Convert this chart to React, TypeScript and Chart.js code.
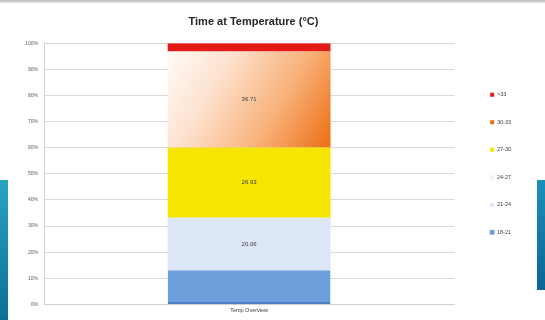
import React, { useEffect, useRef } from "react";
import { Chart, registerables } from "chart.js";

Chart.register(...registerables);

// Category and temperature bins (share of time, %)
const categories = ["Temp Overview"];
const binLabels = ["18-21", "21-24", "24-27", "27-30", "30-33", ">33"];
const bin18to21 = [13.08];
const bin21to24 = [20.06];
const bin24to27 = [0];
const bin27to30 = [26.93];
const bin30to33 = [36.71];
const binOver33 = [3.22];
const yTickValues = [0, 10, 20, 30, 40, 50, 60, 70, 80, 90, 100];

const FONT = "'Liberation Sans', Arial, sans-serif";

// Diagonal peach-to-orange fill for the 30-33 band
function orangeFill(ctx: any) {
  const chart = ctx.chart;
  const area = chart.chartArea;
  if (!area) return "#f5a565";
  const ys = chart.scales.y;
  const xs = chart.scales.x;
  const start = bin18to21[0] + bin21to24[0] + bin24to27[0] + bin27to30[0];
  const top = ys.getPixelForValue(start + bin30to33[0]);
  const bottom = ys.getPixelForValue(start);
  const cx = xs.getPixelForValue(0);
  const half = ((area.right - area.left) * 0.4) / 2;
  const g = chart.ctx.createLinearGradient(cx - half, top, cx + half, bottom);
  g.addColorStop(0, "#fffbf8");
  g.addColorStop(0.3, "#fde2cf");
  g.addColorStop(0.65, "#f8b27a");
  g.addColorStop(1, "#ec6d12");
  return g;
}

// Value labels centred inside the labelled segments
const segmentLabels = {
  id: "segmentLabels",
  afterDatasetsDraw(chart: any) {
    const { ctx } = chart;
    ctx.save();
    ctx.font = `6px ${FONT}`;
    ctx.fillStyle = "#404040";
    ctx.textAlign = "center";
    ctx.textBaseline = "middle";
    chart.data.datasets.forEach((ds: any, i: number) => {
      if (!ds.showValue) return;
      const meta = chart.getDatasetMeta(i);
      meta.data.forEach((el: any, j: number) => {
        const p = el.getCenterPoint();
        ctx.fillText(ds.data[j].toFixed(2), p.x, p.y);
      });
    });
    ctx.restore();
  },
};

// Nudges the legend block right and down
const legendOffset = {
  id: "legendOffset",
  afterLayout(chart: any) {
    const lg = chart.legend;
    if (!lg) return;
    lg.left += 14;
    lg.right += 14;
    lg.top += 5;
    lg.bottom += 5;
  },
};

export default function App() {
  const ref = useRef<HTMLCanvasElement>(null);

  useEffect(() => {
    if (!ref.current) return;
    const chart = new Chart(ref.current, {
      type: "bar",
      data: {
        labels: categories,
        datasets: [
          { label: binLabels[0], data: bin18to21, backgroundColor: "#6c9fdc", borderColor: "#4f7fc6", borderWidth: { top: 0, left: 0, right: 0, bottom: 2 }, borderSkipped: false, showValue: false },
          { label: binLabels[1], data: bin21to24, backgroundColor: "#dce6f6", showValue: true },
          { label: binLabels[2], data: bin24to27, backgroundColor: "#eef2f8", showValue: false },
          { label: binLabels[3], data: bin27to30, backgroundColor: "#f6e500", showValue: true },
          { label: binLabels[4], data: bin30to33, backgroundColor: orangeFill, showValue: true },
          { label: binLabels[5], data: binOver33, backgroundColor: "#e41a17", showValue: false },
        ] as any,
      },
      options: {
        responsive: false,
        animation: false,
        layout: { padding: { top: 0, right: 38, bottom: 3, left: 0 } },
        datasets: { bar: { barPercentage: 0.397, categoryPercentage: 1 } },
        scales: {
          x: {
            stacked: true,
            grid: { display: false, drawTicks: false },
            border: { color: "#d0d0d0" },
            ticks: { font: { size: 5.5, family: FONT }, color: "#404040", padding: 3 },
          },
          y: {
            stacked: true,
            min: 0,
            max: 100,
            afterFit(scale: any) {
              scale.width = 44;
            },
            afterBuildTicks(scale: any) {
              scale.ticks = yTickValues.map((v) => ({ value: v }));
            },
            grid: { color: "#d9d9d9", drawTicks: false },
            border: { color: "#d0d0d0" },
            ticks: {
              font: { size: 5, family: FONT },
              color: "#595959",
              padding: 6,
              callback: (v: any) => `${v}%`,
            },
          },
        },
        plugins: {
          title: {
            display: true,
            text: "Time at Temperature (°C)",
            font: { size: 11, weight: "bold", family: FONT },
            color: "#262626",
            padding: { top: 15, bottom: 15 },
          },
          legend: {
            position: "right",
            reverse: true,
            labels: {
              boxWidth: 4,
              boxHeight: 4,
              padding: 22,
              font: { size: 5.5, family: FONT },
              color: "#404040",
            },
          },
          tooltip: { enabled: false },
        },
      } as any,
      plugins: [segmentLabels, legendOffset],
    });
    return () => chart.destroy();
  }, []);

  return (
    <div style={{ position: "fixed", left: 0, top: 0, width: 545, height: 320, background: "#ffffff", overflow: "hidden" }}>
      <div style={{ position: "absolute", left: 0, top: 0, width: 545, height: 3, background: "linear-gradient(#bdbdbd, #e4e4e4)" }} />
      <div style={{ position: "absolute", left: 0, top: 180, width: 8, height: 140, background: "linear-gradient(#2aa3c3, #0c6f98)" }} />
      <div style={{ position: "absolute", left: 537, top: 180, width: 8, height: 110, background: "linear-gradient(#1c8fba, #0b6694)" }} />
      <canvas ref={ref} width={545} height={320} style={{ position: "absolute", left: 0, top: 0 }} />
    </div>
  );
}
